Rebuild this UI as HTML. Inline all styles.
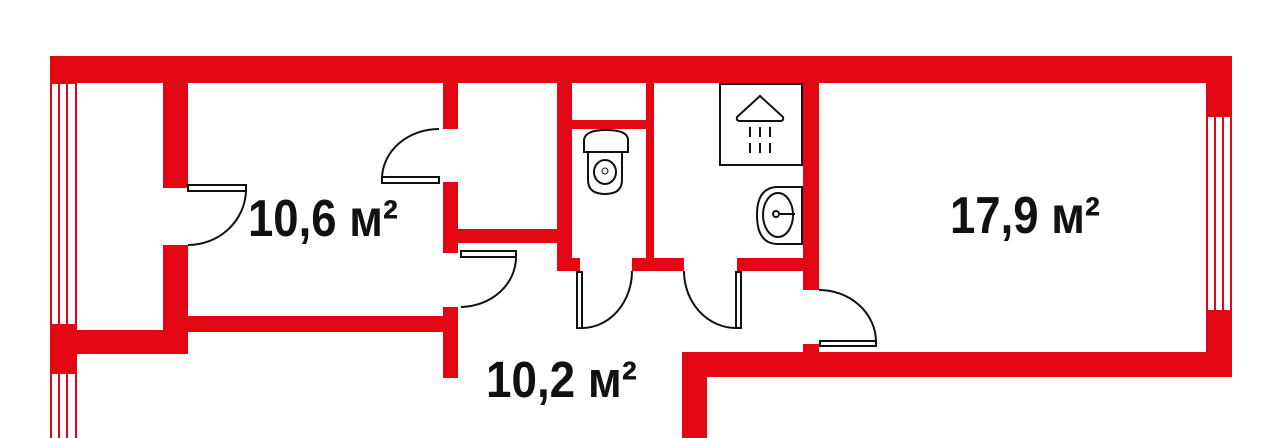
<!DOCTYPE html>
<html><head><meta charset="utf-8"><style>
html,body{margin:0;padding:0;background:#fff;}
svg{display:block;}
text{font-family:"Liberation Sans",sans-serif;font-weight:bold;fill:#111;}
</style></head><body>
<svg width="1280" height="438" viewBox="0 0 1280 438" xmlns="http://www.w3.org/2000/svg">
<g fill="#e30613">
<rect x="50" y="56" width="1182" height="27"/>
<rect x="50" y="325" width="27" height="48"/>
<rect x="163" y="82" width="25" height="106"/>
<rect x="163" y="245" width="25" height="109"/>
<rect x="76" y="330" width="112" height="24"/>
<rect x="188" y="316" width="262" height="16"/>
<rect x="443" y="82" width="15" height="47"/>
<rect x="443" y="182" width="15" height="71"/>
<rect x="443" y="307" width="15" height="71"/>
<rect x="458" y="229" width="112" height="14"/>
<rect x="557" y="82" width="15" height="189"/>
<rect x="557" y="258" width="23" height="13"/>
<rect x="572" y="120" width="78" height="9"/>
<rect x="646" y="82" width="8" height="189"/>
<rect x="632" y="258" width="52" height="13"/>
<rect x="737" y="258" width="82" height="13"/>
<rect x="803" y="82" width="16" height="208"/>
<rect x="803" y="344" width="16" height="14"/>
<rect x="1206" y="56" width="26" height="60"/>
<rect x="1206" y="311" width="26" height="66"/>
<rect x="682" y="352" width="550" height="25"/>
<rect x="682" y="352" width="25" height="86"/>
</g>
<g fill="none" stroke="#e30613" stroke-width="2">
<rect x="51" y="83" width="25" height="242"/>
<line x1="59" y1="83" x2="59" y2="325"/><line x1="67" y1="83" x2="67" y2="325"/>
<rect x="51" y="373" width="25" height="70"/>
<line x1="59" y1="373" x2="59" y2="440"/><line x1="67" y1="373" x2="67" y2="440"/>
<rect x="1207" y="116" width="24" height="195"/>
<line x1="1215" y1="116" x2="1215" y2="311"/><line x1="1223" y1="116" x2="1223" y2="311"/>
</g>
<g fill="#fff" stroke="#111" stroke-width="2">
<rect x="188" y="185" width="58" height="6"/>
<rect x="382" y="177" width="57" height="6"/>
<rect x="461" y="251" width="55" height="6"/>
<rect x="577" y="272" width="5" height="56"/>
<rect x="736" y="272" width="5" height="56"/>
<rect x="820" y="341" width="56" height="5"/>
</g>
<g fill="none" stroke="#111" stroke-width="2">
<path d="M246 191 A58 56 0 0 1 188 245"/>
<path d="M439 129 A57 50 0 0 0 382 178"/>
<path d="M516 257 A56 50 0 0 1 461 307"/>
<path d="M632 271 A50 57 0 0 1 582 328"/>
<path d="M684 271 A52 57 0 0 0 736 328"/>
<path d="M819 290 A57 52 0 0 1 876 341"/>
<path d="M584 152 L584 140 Q585 130 606 130 Q628 130 628 140 L628 152 Z"/>
<path d="M588 152 L588 180 Q588 194 605 194 Q622 194 622 180 L622 152"/>
<ellipse cx="605" cy="172" rx="11" ry="12"/>
<circle cx="605" cy="171" r="3" stroke-width="1"/>
<rect x="720" y="84" width="82" height="81"/>
<path d="M737 117 L760 96 L783 117 Q784 121 780 121 L740 121 Q736 121 737 117 Z"/>
<path d="M750 127 v10 M760 127 v10 M770 127 v10 M750 143 v10 M760 143 v10 M770 143 v10"/>
<path d="M802 187 L778 187 Q757 187 757 215 Q757 244 778 244 L802 244 Z"/>
<ellipse cx="778" cy="215" rx="15" ry="22"/>
<circle cx="776" cy="214" r="3"/>
<path d="M780 214 h15"/>
</g>
<text x="248" y="236" font-size="52" textLength="150" lengthAdjust="spacingAndGlyphs">10,6 м²</text>
<text x="950" y="233" font-size="52" textLength="150" lengthAdjust="spacingAndGlyphs">17,9 м²</text>
<text x="486" y="397" font-size="51" textLength="151" lengthAdjust="spacingAndGlyphs">10,2 м²</text>
</svg>
</body></html>
